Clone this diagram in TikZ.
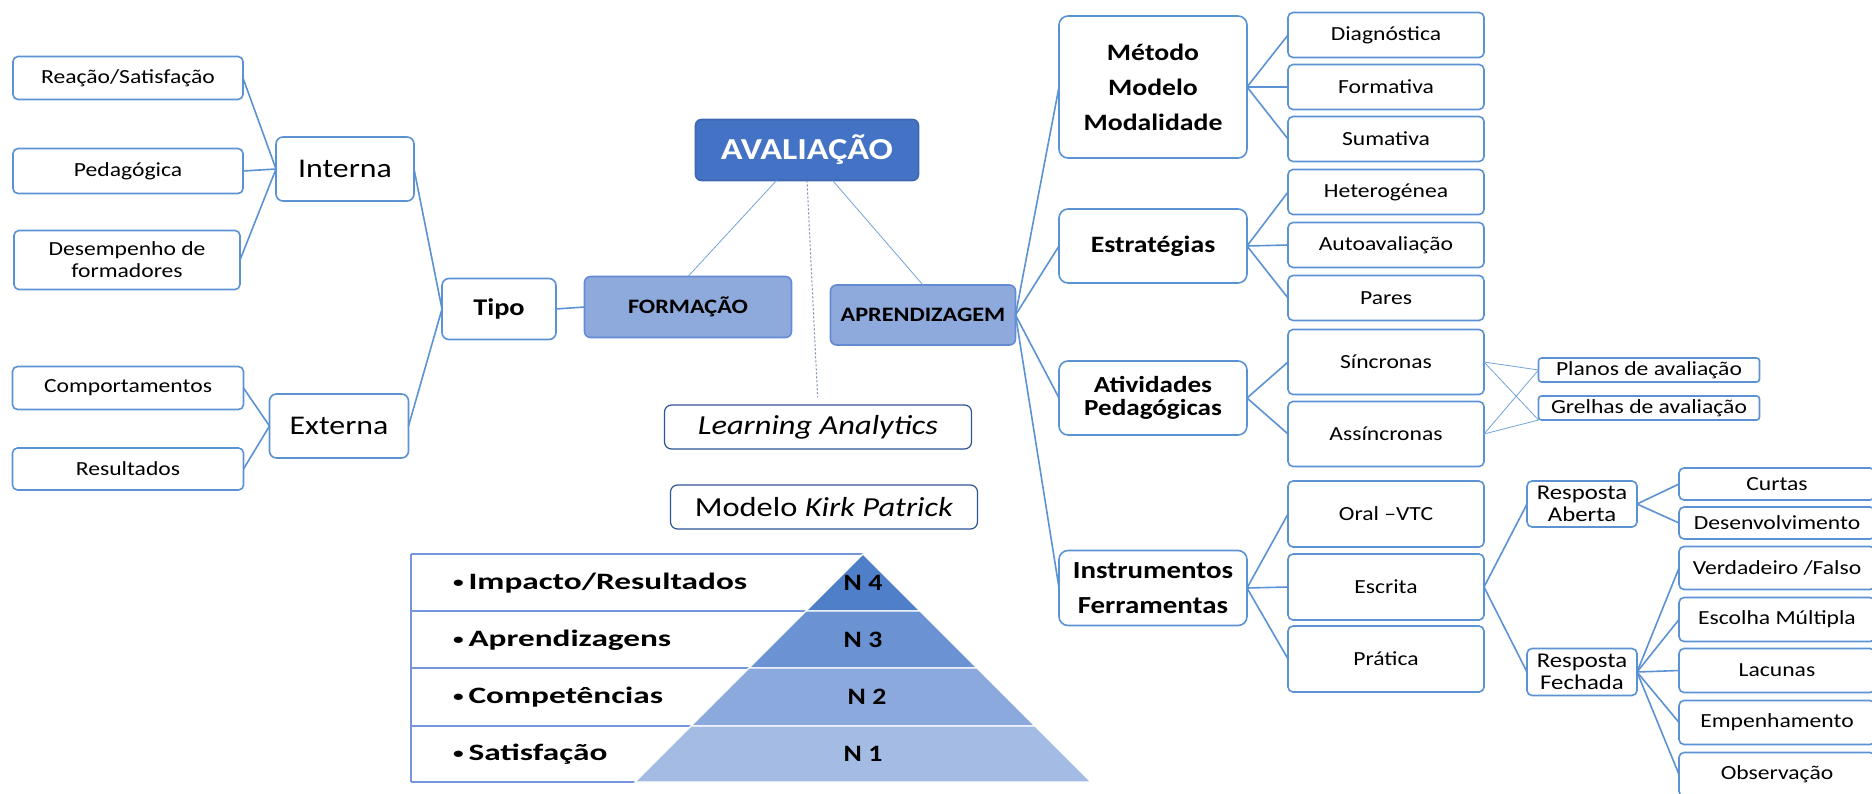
\documentclass[tikz,border=0pt]{standalone}
\usepackage{fontspec}
\setmainfont{Carlito}[FakeStretch=1.18]
\usepackage{graphicx}
\usepackage{tikz}
\usetikzlibrary{positioning}
\definecolor{boxblue}{RGB}{91,146,212}
\definecolor{hubfill}{RGB}{142,169,219}
\definecolor{hubedge}{RGB}{101,140,210}
\definecolor{rootfill}{RGB}{68,114,196}
\definecolor{darkedge}{RGB}{47,85,151}
\definecolor{tableblue}{RGB}{118,150,218}
\definecolor{dotblue}{RGB}{120,140,180}
\definecolor{levelfour}{RGB}{80,127,201}
\definecolor{levelthree}{RGB}{107,147,212}
\definecolor{leveltwo}{RGB}{140,169,221}
\definecolor{levelone}{RGB}{164,187,228}
\newcommand{\lvlitem}[1]{\scalebox{1.2}[1]{\raisebox{1.5pt}{\fontsize{15}{15}\selectfont •}\hspace{4pt}#1}}
\tikzset{
  myleaf/.style={
    draw=boxblue,
    shape=rectangle,
    line width=1.6pt,
    rounded corners=5pt,
    fill=white,
    align=center,
    inner sep=0pt,
    outer sep=0pt,
    minimum width=196,
    minimum height=45,
    font=\fontsize{20}{22}\selectfont
  },
  mymid/.style={
    myleaf,
    rounded corners=7pt,
    minimum width=138,
    minimum height=64,
    font=\fontsize{27}{30}\selectfont
  },
  mybranch/.style={
    myleaf,
    rounded corners=9pt,
    minimum width=188,
    minimum height=74,
    font=\fontsize{23.5}{35}\selectfont\bfseries
  },
  myhub/.style={
    myleaf,
    draw=hubedge,
    fill=hubfill,
    rounded corners=6pt,
    minimum height=61,
    font=\fontsize{20.5}{24}\selectfont\bfseries
  },
  myroot/.style={
    myhub,
    draw=rootfill!90!black,
    fill=rootfill,
    text=white,
    font=\fontsize{30.5}{32}\selectfont\bfseries
  },
  mytag/.style={
    myleaf,
    draw=darkedge,
    line width=1.2pt,
    rounded corners=7pt,
    minimum width=307,
    minimum height=44,
    font=\fontsize{27.5}{28}\selectfont
  },
  mylevel/.style={
    inner sep=0pt,
    font=\fontsize{23.5}{24}\selectfont\bfseries
  },
  myline/.style={
    draw=boxblue,
    line width=1.6pt
  },
  mythinline/.style={
    draw=boxblue!85,
    line width=0.8pt
  },
  mydots/.style={
    draw=dotblue,
    line width=1pt,
    dash pattern=on 2pt off 2pt
  },
  mytable/.style={
    draw=tableblue,
    line width=1.5pt
  },
  mylayer/.style={
    draw=white,
    line width=1.2pt
  },
}

\begin{document}
\begin{tikzpicture}[x=1pt, y=-1pt]
    \useasboundingbox (0,0) rectangle (1872,793);

    \node[myroot, minimum width=223] (avaliacao) at (807,150) {AVALIAÇÃO};
    \node[myhub, minimum width=207] (formacao)  at (688,307) {FORMAÇÃO};
    \node[myhub, minimum width=185, minimum height=60] (aprendizagem) at (923,315) {APRENDIZAGEM};

    \node[mytag] (learning) at (818,427) {\itshape Learning Analytics};
    \node[mytag] (kirk)     at (824,507) {Modelo \textit{Kirk Patrick}};

    \draw[mythinline] (avaliacao.225) -- (formacao.north);
    \draw[mythinline] (avaliacao.310) -- (aprendizagem.north);
    \draw[mydots, shorten >=8pt] (avaliacao.south) -- (learning.north);

    % formacao side
    \node[mymid, minimum width=114, minimum height=61, font=\fontsize{24}{26}\selectfont\bfseries] (tipo) at (499,309) {Tipo};
    \node[mymid] (interna) at (345,169) {Interna};
    \node[mymid, minimum width=139] (externa) at (339,426) {Externa};

    \node[myleaf, minimum width=230, minimum height=43] (reacao)     at (128,78)  {Reação/Satisfação};
    \node[myleaf, minimum width=230]                    (pedagogica) at (128,171) {Pedagógica};
    \node[myleaf, minimum width=226, minimum height=59] (desempenho) at (127,260) {Desempenho de\\formadores};
    \node[myleaf, minimum width=231, minimum height=43] (comport)    at (128,388) {Comportamentos};
    \node[myleaf, minimum width=231, minimum height=42] (resultados) at (128,469) {Resultados};

    \draw[myline] (reacao.east)     -- (interna.west);
    \draw[myline] (pedagogica.east) -- (interna.west);
    \draw[myline] (desempenho.east) -- (interna.west);
    \draw[myline] (comport.east)    -- (externa.west);
    \draw[myline] (resultados.east) -- (externa.west);
    \draw[myline] (interna.east)    -- (tipo.west);
    \draw[myline] (externa.east)    -- (tipo.west);
    \draw[myline] (tipo.east)       -- (formacao.west);

    % aprendizagem side
    \node[mybranch, minimum height=142] (metodo)       at (1153,87)  {Método\\Modelo\\Modalidade};
    \node[mybranch]                     (estrategias)  at (1153,246) {Estratégias};
    \node[mybranch, font=\fontsize{23}{23}\selectfont\bfseries] (atividades) at (1153,398) {Atividades\\Pedagógicas};
    \node[mybranch, minimum height=75, font=\fontsize{24.5}{35}\selectfont\bfseries] (instrumentos) at (1153,588) {Instrumentos\\Ferramentas};

    \node[myleaf] (diagnostica)  at (1386,35)                  {Diagnóstica};
    \node[myleaf] (formativa)    [below=7pt of diagnostica]     {Formativa};
    \node[myleaf] (sumativa)     [below=7pt of formativa]       {Sumativa};
    \node[myleaf] (heterogenea)  at (1386,192)                 {Heterogénea};
    \node[myleaf] (autoaval)     [below=8pt of heterogenea]     {Autoavaliação};
    \node[myleaf] (pares)        [below=8pt of autoaval]        {Pares};
    \node[myleaf, minimum height=65] (sincronas)  at (1386,362) {Síncronas};
    \node[myleaf, minimum height=65] (assincronas) [below=7pt of sincronas] {Assíncronas};
    \node[myleaf, minimum height=66] (oral)    at (1386,514)     {Oral –VTC};
    \node[myleaf, minimum height=66] (escrita) [below=7pt of oral]    {Escrita};
    \node[myleaf, minimum height=66] (pratica) [below=6pt of escrita] {Prática};

    \node[myleaf, minimum width=221, minimum height=24, rounded corners=3pt] (planos)  at (1649,370) {Planos de avaliação};
    \node[myleaf, minimum width=221, minimum height=24, rounded corners=3pt] (grelhas) at (1649,408) {Grelhas de avaliação};

    \node[myleaf, minimum width=110, minimum height=46, font=\fontsize{21}{22}\selectfont] (aberta)  at (1582,504) {Resposta\\Aberta};
    \node[myleaf, minimum width=110, minimum height=47, font=\fontsize{21}{22}\selectfont] (fechada) at (1582,672) {Resposta\\Fechada};

    \node[myleaf, minimum height=32] (curtas)      at (1777,484)              {Curtas};
    \node[myleaf, minimum height=32] (desenvolv)   [below=7pt of curtas]      {Desenvolvimento};
    \node[myleaf, minimum height=43] (verdadeiro)  at (1777,568)              {Verdadeiro /Falso};
    \node[myleaf, minimum height=44] (escolha)     [below=8pt of verdadeiro]  {Escolha Múltipla};
    \node[myleaf, minimum height=44] (lacunas)     [below=7pt of escolha]     {Lacunas};
    \node[myleaf, minimum height=44] (empenho)     [below=8pt of lacunas]     {Empenhamento};
    \node[myleaf, minimum height=44] (observacao)  [below=8pt of empenho]     {Observação};

    \draw[myline] (aprendizagem.east) -- (metodo.west);
    \draw[myline] (aprendizagem.east) -- (estrategias.west);
    \draw[myline] (aprendizagem.east) -- (atividades.west);
    \draw[myline] (aprendizagem.east) -- (instrumentos.west);

    \draw[myline] (metodo.east) -- (diagnostica.west);
    \draw[myline] (metodo.east) -- (formativa.west);
    \draw[myline] (metodo.east) -- (sumativa.west);

    \draw[myline] (estrategias.east) -- (heterogenea.west);
    \draw[myline] (estrategias.east) -- (autoaval.west);
    \draw[myline] (estrategias.east) -- (pares.west);

    \draw[myline] (atividades.east) -- (sincronas.west);
    \draw[myline] (atividades.east) -- (assincronas.west);

    \draw[mythinline] (sincronas.east)   -- (planos.west);
    \draw[mythinline] (sincronas.east)   -- (grelhas.south west);
    \draw[mythinline] (assincronas.east) -- (planos.west);
    \draw[mythinline] (assincronas.east) -- (grelhas.south west);

    \draw[myline] (instrumentos.east) -- (oral.west);
    \draw[myline] (instrumentos.east) -- (escrita.west);
    \draw[myline] (instrumentos.east) -- (pratica.west);

    \draw[myline] (escrita.east) -- (aberta.west);
    \draw[myline] (escrita.east) -- (fechada.west);

    \draw[myline] (aberta.east) -- (curtas.west);
    \draw[myline] (aberta.east) -- (desenvolv.west);

    \draw[myline] (fechada.east) -- (verdadeiro.west);
    \draw[myline] (fechada.east) -- (escolha.west);
    \draw[myline] (fechada.east) -- (lacunas.west);
    \draw[myline] (fechada.east) -- (empenho.west);
    \draw[myline] (fechada.east) -- (observacao.west);

    % Kirk Patrick levels
    \draw[mytable] (411,554) -- (411,782);
    \draw[mytable] (411,554) -- (863,554);
    \draw[mytable] (411,611) -- (806,611);
    \draw[mytable] (411,668) -- (749,668);
    \draw[mytable] (411,726) -- (691,726);
    \draw[mytable] (411,782) -- (635,782);

    \filldraw[mylayer, fill=levelfour]  (863,554) -- (920,611) -- (806,611) -- cycle;
    \filldraw[mylayer, fill=levelthree] (806,611) -- (920,611) -- (977,668) -- (749,668) -- cycle;
    \filldraw[mylayer, fill=leveltwo]   (749,668) -- (977,668) -- (1035,726) -- (691,726) -- cycle;
    \filldraw[mylayer, fill=levelone]   (691,726) -- (1035,726) -- (1091,782) -- (635,782) -- cycle;

    \node[mylevel, anchor=west] (impacto)       at (453,583) {\lvlitem{Impacto/Resultados}};
    \node[mylevel, anchor=west] (aprendizagens) at (453,640) {\lvlitem{Aprendizagens}};
    \node[mylevel, anchor=west] (competencias)  at (453,697) {\lvlitem{Competências}};
    \node[mylevel, anchor=west] (satisfacao)    at (453,754) {\lvlitem{Satisfação}};

    \node[mylevel] (nquatro) at (863,583) {N 4};
    \node[mylevel] (ntres)   at (863,640) {N 3};
    \node[mylevel] (ndois)   at (867,697) {N 2};
    \node[mylevel] (num)     at (863,754) {N 1};
  \end{tikzpicture}
\end{document}
